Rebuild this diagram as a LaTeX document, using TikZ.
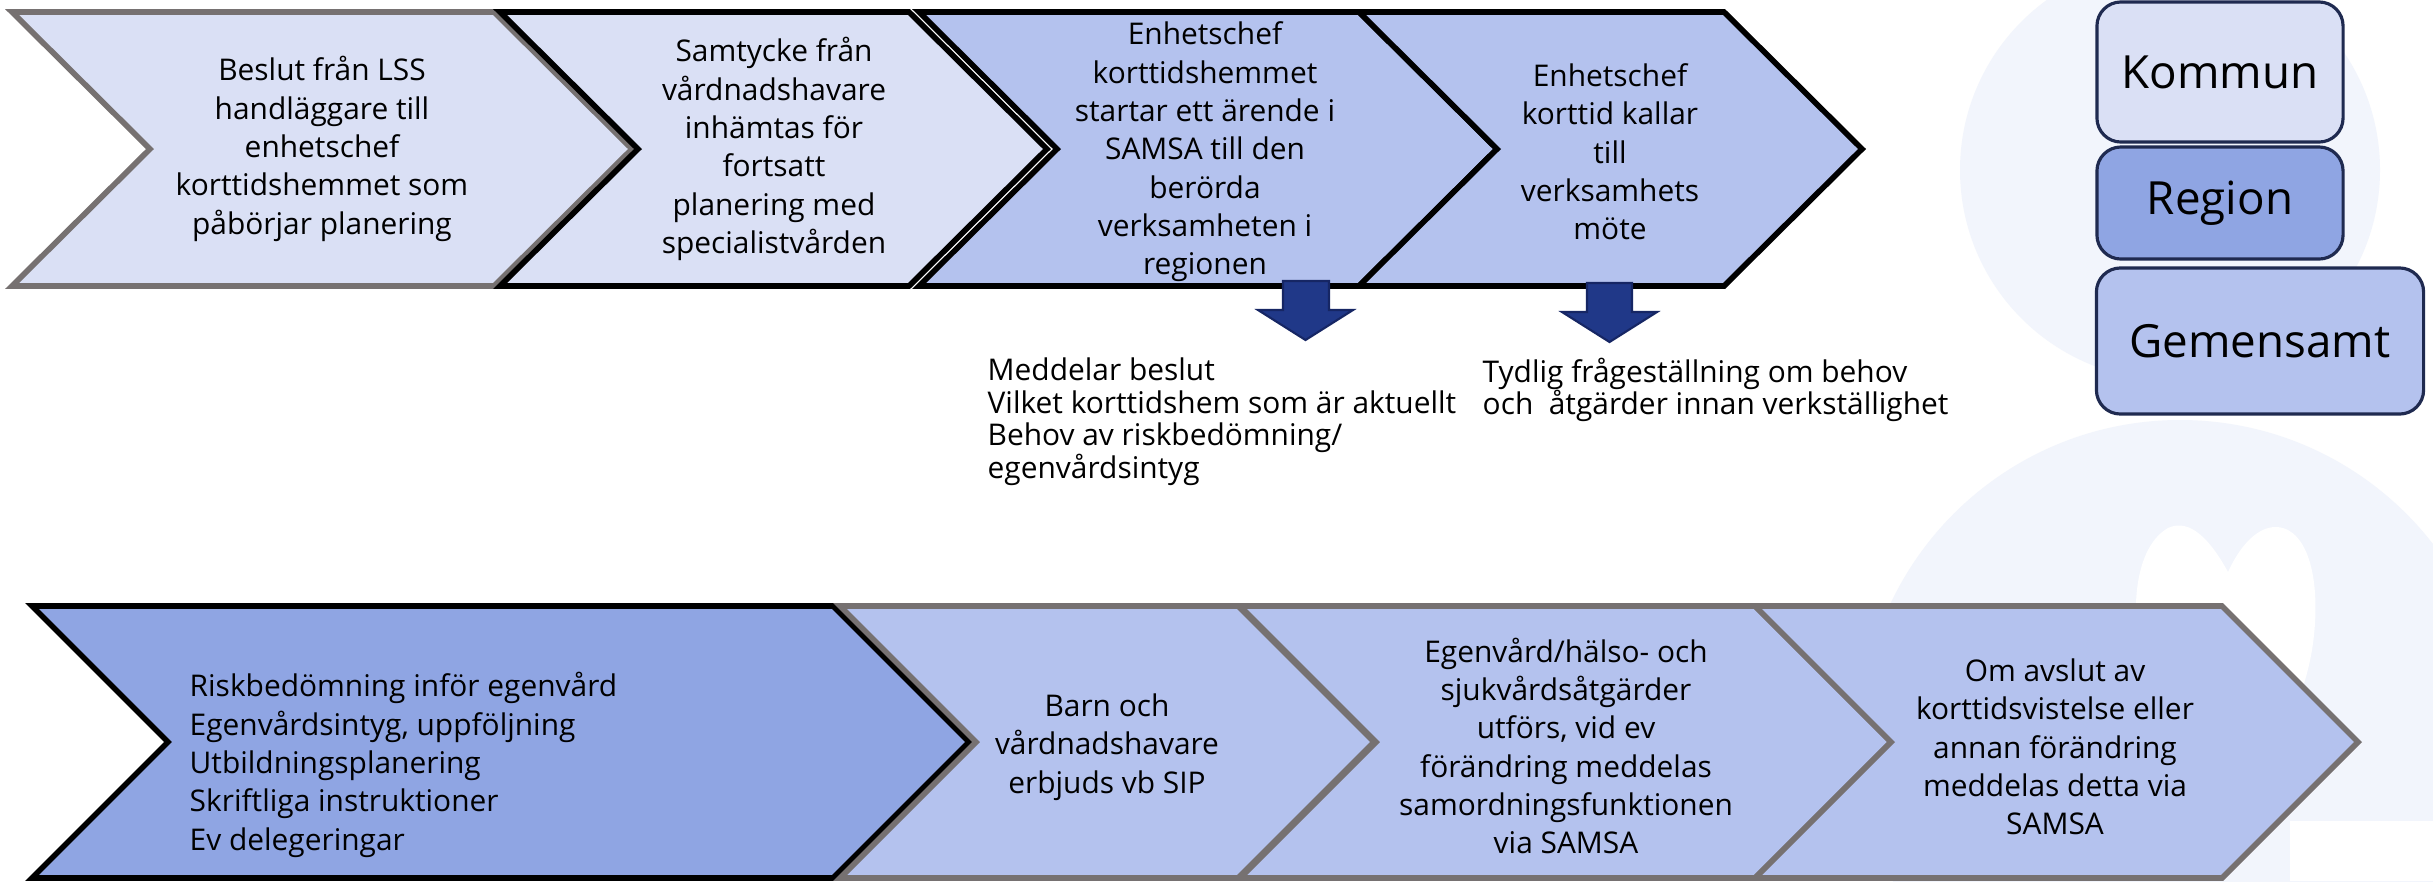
\documentclass[tikz,border=0pt]{standalone}
\usepackage{fontspec}
\setmainfont{Open Sans}
\definecolor{lightfill}{RGB}{218,224,245}
\definecolor{midfill}{RGB}{180,194,238}
\definecolor{darkfill}{RGB}{143,165,227}
\definecolor{grayborder}{RGB}{118,113,113}
\definecolor{wmark}{RGB}{242,245,252}
\definecolor{arrowfill}{RGB}{32,56,136}
\definecolor{arrowdraw}{RGB}{22,38,100}
\definecolor{legborder}{RGB}{31,42,80}
\newcommand\chevpath[6]{%
  \draw[chev,#6] (#1,#3) -- (#2,#3) -- ({#2+#5},{(#3+#4)/2}) -- (#2,#4) -- (#1,#4) -- ({#1+#5},{(#3+#4)/2}) -- cycle;}
\newcommand\downarrowshape[6]{% stem l, stem r, head l, head r, top, shoulder ; tip below
  \draw[blockarrow] (#1,#5) -- (#2,#5) -- (#2,#6) -- (#4,#6) -- ({(#3+#4)/2},{#6+30}) -- (#3,#6) -- (#1,#6) -- cycle;}
\begin{document}
\begin{tikzpicture}[x=0.01cm,y=-0.01cm,
  chev/.style={line width=1.6pt, line join=miter},
  lbl/.style={font=\fontsize{8.5}{10.9}\selectfont, align=center, inner sep=0pt, text=black},
  note/.style={font=\fontsize{8.5}{9.3}\selectfont, align=left, inner sep=0pt, text=black, anchor=north west},
  blockarrow/.style={fill=arrowfill, draw=arrowdraw, line width=0.6pt, line join=miter},
  legend/.style={draw=legborder, line width=0.9pt, rounded corners=0.24cm, inner sep=0pt,
    font=\fontsize{13}{15}\selectfont, text=black}]
\useasboundingbox (0,0) rectangle (2433,881);
\fill[white] (0,0) rectangle (2433,881);
% watermark
\fill[wmark] (2170,170) circle (210);
\fill[wmark] (2180,740) circle (320);
\fill[white] (2290,821) rectangle (2433,881);
\fill[white] (2228,572) .. controls (2205,530) and (2185,520) .. (2168,528)
  .. controls (2138,545) and (2130,600) .. (2140,650)
  .. controls (2160,720) and (2200,780) .. (2228,830)
  .. controls (2260,780) and (2300,720) .. (2312,650)
  .. controls (2320,600) and (2315,545) .. (2288,530)
  .. controls (2268,520) and (2245,535) .. (2228,572) -- cycle;
% top row
\chevpath{12}{494}{12}{286}{138}{fill=lightfill, draw=grayborder}
\chevpath{500}{909}{12}{286}{138}{fill=lightfill, draw=black}
\chevpath{919}{1359}{12}{286}{138}{fill=midfill, draw=black}
\chevpath{1359}{1724}{12}{286}{138}{fill=midfill, draw=black}
% bottom row
\chevpath{32}{833}{606}{878}{136}{fill=darkfill, draw=black}
\chevpath{840}{1238}{606}{878}{136}{fill=midfill, draw=grayborder}
\chevpath{1240}{1755}{606}{878}{136}{fill=midfill, draw=grayborder}
\chevpath{1755}{2222}{606}{878}{136}{fill=midfill, draw=grayborder}
% texts top
\node[lbl] (t1) at (322,149) {Beslut från LSS\\handläggare till\\enhetschef\\korttidshemmet som\\påbörjar planering};
\node[lbl] (t2) at (774,149) {Samtycke från\\vårdnadshavare\\inhämtas för\\fortsatt\\planering med\\specialistvården};
\node[lbl] (t3) at (1205,152) {Enhetschef\\korttidshemmet\\startar ett ärende i\\SAMSA till den\\berörda\\verksamheten i\\regionen};
\node[lbl] (t4) at (1610,152) {Enhetschef\\korttid kallar\\till\\verksamhets\\möte};
% texts bottom
\node[lbl, align=left, anchor=west] (t5) at (189,765) {Riskbedömning inför egenvård\\Egenvårdsintyg, uppföljning\\Utbildningsplanering\\Skriftliga instruktioner\\Ev delegeringar};
\node[lbl] (t6) at (1107,747) {Barn och\\vårdnadshavare\\erbjuds vb SIP};
\node[lbl] (t7) at (1566,746) {Egenvård/hälso- och\\sjukvårdsåtgärder\\utförs, vid ev\\förändring meddelas\\samordningsfunktionen\\via SAMSA};
\node[lbl] (t8) at (2055,747) {Om avslut av\\korttidsvistelse eller\\annan förändring\\meddelas detta via\\SAMSA};
% down arrows
\downarrowshape{1283}{1329}{1258}{1353}{281}{310}
\downarrowshape{1587}{1632}{1562}{1657}{283}{312}
% notes
\node[note] (n1) at (987,357) {Meddelar beslut\\Vilket korttidshem som är aktuellt\\Behov av riskbedömning/\\egenvårdsintyg};
\node[note] (n2) at (1482,357) {Tydlig frågeställning om behov\\och\ \ åtgärder innan verkställighet};
% legend
\node[legend, fill=lightfill, minimum width=2.46cm, minimum height=1.40cm] (kommun) at (2220,72) {Kommun};
\node[legend, fill=darkfill, minimum width=2.46cm, minimum height=1.12cm] (region) at (2220,203) {Region};
\node[legend, fill=midfill, minimum width=3.27cm, minimum height=1.46cm] (gemensamt) at (2260,341) {Gemensamt};
\end{tikzpicture}
\end{document}
